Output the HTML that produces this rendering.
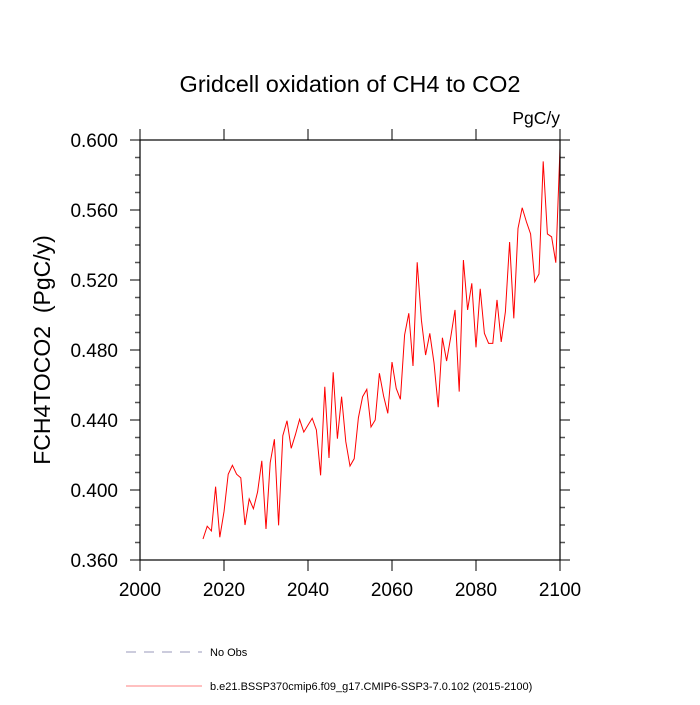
<!DOCTYPE html>
<html><head><meta charset="utf-8"><style>
body{margin:0;background:#fff;width:700px;height:700px;overflow:hidden;font-family:"Liberation Sans",sans-serif}
</style></head><body>
<svg id="chart" width="700" height="700" xmlns="http://www.w3.org/2000/svg" font-family="Liberation Sans, sans-serif">
<text x="350" y="92" text-anchor="middle" font-size="23.5">Gridcell oxidation of CH4 to CO2</text>
<text x="560" y="124" text-anchor="end" font-size="17.5">PgC/y</text>
<text transform="translate(50,350) rotate(-90)" text-anchor="middle" font-size="23" style="white-space:pre">FCH4TOCO2  (PgC/y)</text>
<g id="axes"></g>
<polyline id="series" fill="none" stroke="#ff0000" stroke-width="1" points=""/>
<rect x="140" y="140" width="420" height="420" fill="none" stroke="#000" stroke-width="1.2"/>
<line x1="126" y1="652" x2="202" y2="652" stroke="#9999bb" stroke-width="1" stroke-dasharray="10,8"/>
<text x="210" y="656" font-size="11">No Obs</text>
<line x1="126" y1="686" x2="202" y2="686" stroke="#ff8080" stroke-width="1"/>
<text x="210" y="690" font-size="11">b.e21.BSSP370cmip6.f09_g17.CMIP6-SSP3-7.0.102 (2015-2100)</text>
</svg>
<script>
const years = [];
for (let y = 2015; y <= 2100; y++) years.push(y);
const values = [0.372,0.3793,0.3766,0.4019,0.373,0.3876,0.409,0.4141,0.409,0.4069,
0.38,0.3949,0.3893,0.3989,0.4167,0.3777,0.4156,0.429,0.3798,0.431,
0.4396,0.4238,0.4316,0.4404,0.4331,0.4371,0.441,0.4343,0.4084,0.459,
0.4183,0.4673,0.4293,0.4533,0.4276,0.4137,0.4179,0.4413,0.4533,0.4575,
0.436,0.44,0.4667,0.4537,0.4438,0.4731,0.4581,0.4518,0.4886,0.501,
0.4709,0.5301,0.4971,0.4771,0.4895,0.4727,0.4473,0.487,0.4737,0.4876,
0.5029,0.4562,0.5314,0.5029,0.5181,0.4815,0.515,0.4895,0.4838,0.4838,
0.5086,0.4846,0.5019,0.5417,0.4981,0.5495,0.5613,0.5533,0.5463,0.519,
0.5234,0.5878,0.5463,0.5447,0.5299,0.5953];
const xTicks = [2000,2020,2040,2060,2080,2100];
const yTicks = [0.36,0.40,0.44,0.48,0.52,0.56,0.60];
const yTickLabels = ["0.360","0.400","0.440","0.480","0.520","0.560","0.600"];
const X0=140,X1=560,Y0=560,Y1=140;
const xs = v => X0 + (v-2000)/(2100-2000)*(X1-X0);
const ys = v => Y0 - (v-0.36)/(0.60-0.36)*(Y0-Y1);
const NS="http://www.w3.org/2000/svg";
const axes=document.getElementById('axes');
function ln(x1,y1,x2,y2,name){
  const l=document.createElementNS(NS,'line');
  l.setAttribute('x1',x1);l.setAttribute('y1',y1);l.setAttribute('x2',x2);l.setAttribute('y2',y2);
  l.setAttribute('stroke','#555');l.setAttribute('stroke-width','1.5');
  
  
  axes.appendChild(l);
}
function tx(x,y,s,anchor,name){
  const t=document.createElementNS(NS,'text');
  t.setAttribute('x',x);t.setAttribute('y',y);t.setAttribute('text-anchor',anchor);t.setAttribute('font-size','19');
  t.textContent=s;
  
  
  axes.appendChild(t);
}
xTicks.forEach(v=>{
  const x=xs(v);
  ln(x,560,x,571,'x-tick');
  ln(x,140,x,129,'x-tick-top');
  tx(x,596,String(v),'middle','x-tick-label');
});
for(let v=0.36; v<=0.6001; v+=0.01){
  const y=ys(v);
  const major = Math.abs(Math.round(v*100)%4)===0;
  const len = major?10:5;
  ln(140-len,y,140,y,major?'y-tick':'y-minor-tick');
  ln(560,y,560+len,y,major?'y-tick-right':'y-minor-tick-right');
}
yTicks.forEach((v,i)=>{ tx(118,ys(v)+7,yTickLabels[i],'end','y-tick-label'); });
document.getElementById('series').setAttribute('points', years.map((y,i)=>xs(y)+','+ys(values[i])).join(' '));
</script>
</body></html>
